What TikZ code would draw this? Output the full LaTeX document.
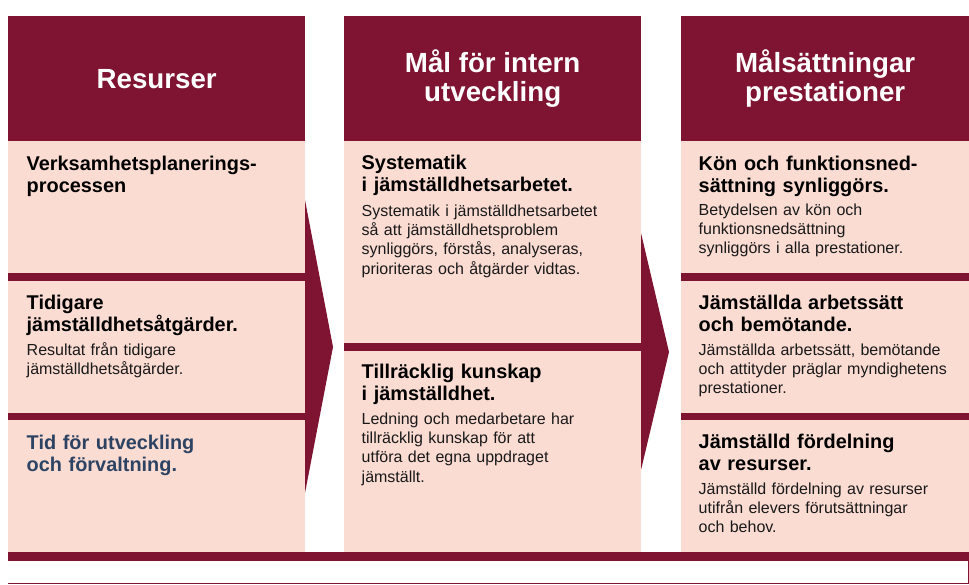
\documentclass[tikz,border=0pt]{standalone}
\usepackage{fontspec}
\setmainfont{Liberation Sans}
\usepackage{tikz}
\usetikzlibrary{positioning}
\definecolor{gd-dark}{HTML}{7E1431}
\definecolor{gd-pink}{HTML}{FBDCD3}
\definecolor{gd-blue}{HTML}{2D4363}

\begin{document}
\begin{tikzpicture}[x=1pt, y=-1pt,
    head/.style={fill=gd-dark, text=white, anchor=north west, inner sep=0pt,
      align=center, minimum height=125pt,
      font=\fontsize{27.7}{28.7}\selectfont\bfseries},
    panel/.style={fill=gd-pink, anchor=north west, inner sep=0pt, minimum height=411pt},
    title/.style={anchor=base west, inner sep=0pt, align=left, text width=270pt,
      font=\fontsize{19.9}{22.3}\selectfont\bfseries},
    body/.style={anchor=base west, inner sep=0pt, align=left, text width=270pt,
      text=black!90, font=\fontsize{16}{19.4}\selectfont}]
    \useasboundingbox (0,0) rectangle (969,584);

    % columns
    \node[head, minimum width=297pt] (H1) at (8,16) {Resurser};
    \node[head, minimum width=297pt] (H2) at (344,16) {Mål för intern\\utveckling};
    \node[head, minimum width=288pt] (H3) at (681,16) {Målsättningar\\prestationer};
    \node[panel, minimum width=297pt] (P1) at (8,141) {};
    \node[panel, minimum width=297pt] (P2) at (344,141) {};
    \node[panel, minimum width=288pt] (P3) at (681,141) {};

    % dividers and chevrons
    \fill[gd-dark] (8,273) rectangle (305,281);
    \fill[gd-dark] (8,413) rectangle (305,420);
    \fill[gd-dark] (344,343) rectangle (641,351);
    \fill[gd-dark] (681,273) rectangle (969,281);
    \fill[gd-dark] (681,413) rectangle (969,420);
    \fill[gd-dark] (305,200) -- (333,347) -- (305,493) -- cycle;
    \fill[gd-dark] (641,233) -- (669,352) -- (641,470) -- cycle;
    \fill[gd-dark] (8,552) rectangle (969,561);
    \draw[gd-dark, line width=0.9pt] (8,583) -- (968.2,583) -- (968.2,561);

    % resurser
    \node[title] (T11) at (26.5,170) {Verksamhetsplanerings-\\processen};
    \node[title] (T12) at (26.5,309.3) {Tidigare\\jämställdhetsåtgärder.};
    \node[body] (B12) at (26.5,355) {Resultat från tidigare\\jämställdhetsåtgärder.};
    \node[title, text=gd-blue] (T13) at (26.5,449.3) {Tid för utveckling\\och förvaltning.};

    % mal for intern utveckling
    \node[title] (T21) at (361.5,169.3) {Systematik\\i jämställdhetsarbetet.};
    \node[body] (B21) at (361.5,216) {Systematik i jämställdhetsarbetet\\så att jämställdhetsproblem\\synliggörs, förstås, analyseras,\\prioriteras och åtgärder vidtas.};
    \node[title] (T22) at (361.5,378.3) {Tillräcklig kunskap\\i jämställdhet.};
    \node[body] (B22) at (361.5,424) {Ledning och medarbetare har\\tillräcklig kunskap för att\\utföra det egna uppdraget\\jämställt.};

    % malsattningar prestationer
    \node[title] (T31) at (698.5,170) {Kön och funktionsned-\\sättning synliggörs.};
    \node[body] (B31) at (698.5,215) {Betydelsen av kön och\\funktionsnedsättning\\synliggörs i alla prestationer.};
    \node[title] (T32) at (698.5,309.3) {Jämställda arbetssätt\\och bemötande.};
    \node[body] (B32) at (698.5,355) {Jämställda arbetssätt, bemötande\\och attityder präglar myndighetens\\prestationer.};
    \node[title] (T33) at (698.5,448.3) {Jämställd fördelning\\av resurser.};
    \node[body] (B33) at (698.5,494) {Jämställd fördelning av resurser\\utifrån elevers förutsättningar\\och behov.};
\end{tikzpicture}
\end{document}
